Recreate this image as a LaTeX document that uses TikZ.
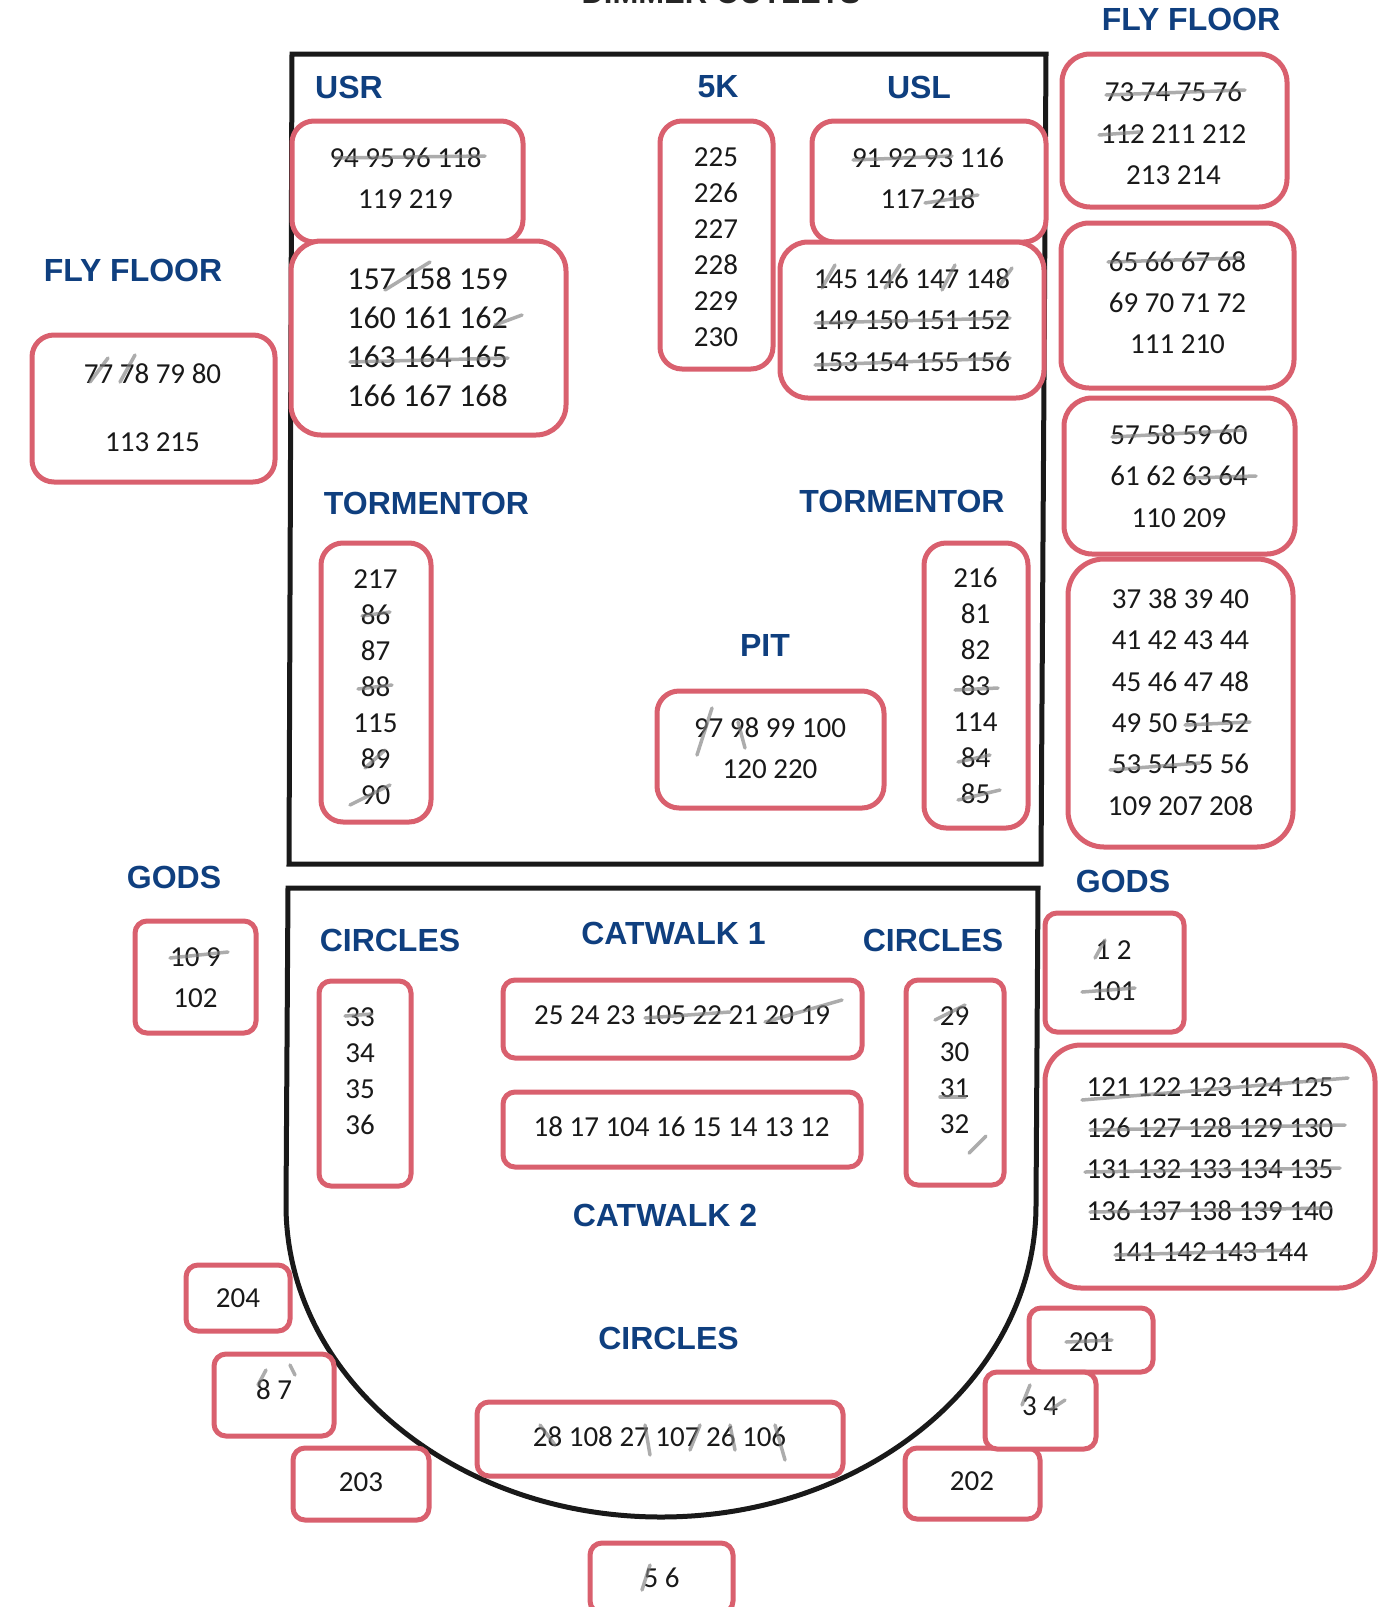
\documentclass[tikz,border=0pt]{standalone}
\usepackage{fontspec}
\setmainfont{Carlito}
\newfontfamily\headfont{Liberation Sans}
\definecolor{boxred}{HTML}{D9606E}
\definecolor{headblue}{HTML}{0F3F7F}
\tikzset{
	outlet/.style={draw=boxred,line width=5pt,fill=white},
	nums/.style={align=center,text=black!90,inner sep=0pt,font=\fontsize{29}{41.3}\selectfont},
	tight/.style={font=\fontsize{29}{36}\selectfont},
	heading/.style={text=headblue,font=\headfont\bfseries\fontsize{32}{36}\selectfont,inner sep=0pt},
	pencil/.style={draw=black!50,line width=3.5pt,opacity=.65,line cap=round},
	wall/.style={draw=black!90,line width=5pt}
}
\begin{document}
\begin{tikzpicture}[x=1pt,y=-1pt]
	\useasboundingbox (0,0) rectangle (1382,1607);
	\node[font=\headfont\bfseries\fontsize{31}{36}\selectfont,anchor=base,text=black!85] (title) at (721,3) {DIMMER OUTLETS};
	%% stage and auditorium
	\draw[wall] (292,54)--(1046,54)--(1041,864)--(289,864)--cycle;
	\draw[wall] (1036,1205)--(1038,888)--(288,888)--(286,1205)
		.. controls (286,1377) and (454,1517) .. (661,1517)
		.. controls (868,1517) and (1036,1377) .. (1036,1205);
	%% outlet boxes: name/x/y/width/height/corner
	\foreach \boxname/\cx/\cy/\bw/\bh/\rad in {usra/407.5/181.5/231/121/22,usrb/428.5/338/275/194/30,fivek/716.5/245/113/248/22,
		usla/929/181.5/234/121/22,uslb/912/320/264/156/28,flya/1174.5/130.5/225/153/28,flyb/1177.5/305.5/233/165/28,
		flyc/1179.5/476/231/156/28,flyd/1180.5/703/225/288/36,flyl/153.5/408.5/243/147/22,torml/376/682.5/110/279/22,
		tormr/976/685.5/104/285/22,pit/770.5/749.5/227/117/22,godsl/195.5/977/121/112/12,godsr/1114.5/972.5/139/119/12,
		circl/365/1083.5/92/205/12,circr/955/1082.5/98/205/12,cata/682.5/1019/359/78/12,catb/682/1129.5/358/75/12,
		ctrl/1210/1166.5/330/243/36,bxa/238/1298/104/66/12,bxb/274/1395/120/82/12,bxc/361/1484/136/72/12,
		circb/660/1439/366/74/12,bxd/972.5/1483.5/135/71/12,bxe/1091/1340/124/64/12,bxf/1040.5/1410.5/111/77/12,
		bxg/661.5/1578/143/70/12}
		\node[outlet,minimum width=\bw pt,minimum height=\bh pt,rounded corners=\rad pt] (\boxname) at (\cx,\cy) {};
	%% numbers
	\node[nums] (usranums) at (405.5,178) {94 95 96 118\\119 219};
	\node[nums,font=\fontsize{32}{39}\selectfont] (usrbnums) at (427.5,337) {157 158 159\\160 161 162\\163 164 165\\166 167 168};
	\node[nums,tight] (fiveknums) at (716,247.5) {225\\226\\227\\228\\229\\230};
	\node[nums] (uslanums) at (928,178) {91 92 93 116\\117 218};
	\node[nums] (uslbnums) at (912,320) {145 146 147 148\\149 150 151 152\\153 154 155 156};
	\node[nums] (flyanums) at (1173.5,133.5) {73 74 75 76\\112 211 212\\213 214};
	\node[nums] (flybnums) at (1177.5,302.5) {65 66 67 68\\69 70 71 72\\111 210};
	\node[nums] (flycnums) at (1179,476) {57 58 59 60\\61 62 63 64\\110 209};
	\node[nums] (flydnums) at (1180.5,702) {37 38 39 40\\41 42 43 44\\45 46 47 48\\49 50 51 52\\53 54 55 56\\109 207 208};
	\node[nums,font=\fontsize{29}{68}\selectfont] (flylnums) at (152.5,407.5) {77 78 79 80\\113 215};
	\node[nums,tight] (tormlnums) at (375.5,687.5) {217\\86\\87\\88\\115\\89\\90};
	\node[nums,tight] (tormrnums) at (975.5,685.5) {216\\81\\82\\83\\114\\84\\85};
	\node[nums] (pitnums) at (770,748) {97 98 99 100\\120 220};
	\node[nums] (godslnums) at (195.5,978) {10 9\\102};
	\node[nums] (godsrnums) at (1113.5,970.5) {1 2\\101};
	\node[nums,tight] (circlnums) at (360,1071.5) {33\\34\\35\\36};
	\node[nums,tight] (circrnums) at (954.5,1070.5) {29\\30\\31\\32};
	\node[nums] (catanums) at (682,1015) {25 24 23 105 22 21 20 19};
	\node[nums] (catbnums) at (681.5,1126.5) {18 17 104 16 15 14 13 12};
	\node[nums] (ctrlnums) at (1210,1169.5) {121 122 123 124 125\\126 127 128 129 130\\131 132 133 134 135\\136 137 138 139 140\\141 142 143 144};
	\node[nums] (bxanums) at (238,1298.5) {204};
	\node[nums] (bxbnums) at (274,1390) {8 7};
	\node[nums] (bxcnums) at (361,1482) {203};
	\node[nums] (circbnums) at (659.5,1437) {28 108 27 107 26 106};
	\node[nums] (bxdnums) at (972,1481.5) {202};
	\node[nums] (bxenums) at (1091,1342) {201};
	\node[nums] (bxfnums) at (1040,1406.5) {3 4};
	\node[nums] (bxgnums) at (661.5,1578) {5 6};
	%% headings
	\node[heading] (hflyr) at (1191,19.5) {FLY FLOOR};
	\node[heading] (hflyl) at (133,270) {FLY FLOOR};
	\node[heading] (husr) at (349,87) {USR};
	\node[heading] (hfivek) at (718,87) {5K};
	\node[heading] (husl) at (919,87) {USL};
	\node[heading] (htorml) at (426.5,503) {TORMENTOR};
	\node[heading] (htormr) at (902,501) {TORMENTOR};
	\node[heading] (hpit) at (765,645) {PIT};
	\node[heading] (hgodsl) at (174,877) {GODS};
	\node[heading] (hgodsr) at (1123,881) {GODS};
	\node[heading] (hcircl) at (390,940) {CIRCLES};
	\node[heading] (hcircr) at (933,940) {CIRCLES};
	\node[heading] (hcata) at (673.5,933) {CATWALK 1};
	\node[heading] (hcatb) at (665,1215) {CATWALK 2};
	\node[heading] (hcircb) at (668.5,1338) {CIRCLES};
	%% pencil crossings
	\foreach \xa/\ya/\xb/\yb in {1106/95/1245/90,1099/135/1140/132,1108/262/1240/258,1112/437/1245/430,1190/478/1256/476,
		335/158/485/156,853/160/952/156,925/203/978/195,495/325/522/315,350/362/508/358,385/290/430/262,
		815/323/1010/318,815/365/1010/358,822/288/835/265,885/288/900/265,942/290/955/265,1000/285/1012/268,
		90/382/108/358,120/382/135/355,362/616/390/612,358/689/392/685,350/805/390/785,365/768/385/750,
		955/690/998/688,958/762/990/755,958/800/1000/790,697/755/712/708,738/722/745/748,170/958/228/952,
		1082/992/1135/988,1095/958/1105/940,345/1016/372/1014,645/1018/730/1012,765/1022/842/1000,
		935/1020/965/1005,940/1097/965/1097,969/1153/986/1136,1082/1100/1348/1078,1090/1130/1345/1125,
		1085/1172/1340/1168,1090/1212/1330/1208,1115/1255/1290/1250,1066/1342/1112/1340,1110/770/1200/763,
		1185/725/1250/722,650/1455/645/1425,690/1450/700/1425,735/1450/730/1425,785/1460/775/1425,540/1425/555/1445,
		1022/1405/1030/1385,1050/1410/1065/1400,642/1590/650/1565,258/1385/266/1370,290/1365/295/1375}
		\draw[pencil] (\xa,\ya)--(\xb,\yb);
\end{tikzpicture}
\end{document}
